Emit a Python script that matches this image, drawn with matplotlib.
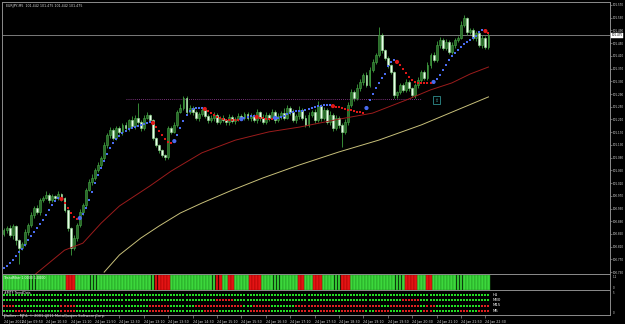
import numpy as np
import matplotlib.pyplot as plt
from matplotlib.transforms import blended_transform_factory

# --- 1. CHART DATA (EURJPY M5, 24 Jan 2012) ---
SYMBOL_TEXT = "EURJPY,M5  101.442 101.475 101.442 101.475"
FIRST_OPEN = 100.850

CLOSES = [
    100.862, 100.869, 100.847, 100.875, 100.831, 100.806, 100.818, 100.856, 100.878, 100.910,
    100.932, 100.919, 100.957, 100.963, 100.972, 100.957, 100.969, 100.963, 100.976, 100.963,
    100.925, 100.869, 100.806, 100.837, 100.878, 100.919, 100.941, 100.988, 101.013, 101.026,
    101.051, 101.067, 101.089, 101.130, 101.161, 101.177, 101.152, 101.183, 101.171, 101.193,
    101.183, 101.208, 101.189, 101.215, 101.202, 101.183, 101.215, 101.224, 101.208, 101.152,
    101.130, 101.114, 101.098, 101.092, 101.183, 101.171, 101.193, 101.233, 101.246, 101.277,
    101.233, 101.246, 101.233, 101.215, 101.227, 101.240, 101.221, 101.208, 101.215, 101.224,
    101.202, 101.215, 101.208, 101.202, 101.218, 101.205, 101.211, 101.221, 101.215, 101.227,
    101.215, 101.221, 101.208, 101.233, 101.215, 101.202, 101.224, 101.215, 101.233, 101.208,
    101.221, 101.230, 101.215, 101.246, 101.233, 101.208, 101.221, 101.240, 101.215, 101.193,
    101.224, 101.233, 101.208, 101.252, 101.215, 101.240, 101.202, 101.224, 101.183, 101.215,
    101.193, 101.171, 101.202, 101.256, 101.296, 101.277, 101.309, 101.328, 101.350, 101.318,
    101.366, 101.391, 101.413, 101.476, 101.428, 101.403, 101.381, 101.359, 101.287, 101.296,
    101.318, 101.303, 101.328, 101.309, 101.287, 101.318, 101.334, 101.359, 101.340, 101.381,
    101.413, 101.397, 101.444, 101.460, 101.435, 101.454, 101.422, 101.444, 101.460, 101.466,
    101.507, 101.529, 101.485, 101.491, 101.466, 101.482, 101.444, 101.466, 101.438, 101.476,
]

# wick lengths in thousandths of a yen
UPPER_WICK = [
    8, 5, 10, 6, 4, 3, 7, 9, 5, 8, 6, 10, 5, 7, 12, 6, 8, 5, 9, 4,
    3, 2, 4, 10, 6, 8, 5, 7, 9, 12, 6, 8, 5, 10, 6, 9, 5, 8, 7, 6,
    9, 5, 12, 8, 47, 6, 8, 10, 4, 3, 2, 4, 3, 5, 8, 6, 10, 7, 12, 8,
    6, 9, 5, 8, 7, 10, 6, 5, 8, 9, 7, 6, 8, 5, 10, 7, 6, 9, 5, 8,
    7, 10, 6, 9, 5, 12, 8, 6, 10, 7, 9, 6, 15, 8, 7, 10, 6, 12, 5, 8,
    9, 6, 10, 15, 7, 8, 5, 12, 6, 9, 7, 6, 8, 10, 9, 7, 12, 8, 6, 10,
    8, 9, 7, 25, 5, 4, 6, 3, 2, 5, 8, 6, 10, 5, 4, 7, 9, 6, 8, 10,
    7, 9, 12, 8, 6, 10, 5, 9, 7, 8, 12, 10, 4, 6, 8, 5, 7, 9, 6, 5,
]
LOWER_WICK = [
    6, 10, 8, 12, 15, 50, 8, 5, 10, 6, 9, 5, 8, 6, 4, 10, 5, 7, 6, 8,
    5, 10, 22, 6, 8, 5, 10, 6, 4, 8, 7, 5, 9, 6, 10, 8, 5, 7, 6, 9,
    6, 8, 5, 10, 7, 9, 6, 4, 5, 8, 6, 9, 7, 9, 6, 8, 5, 7, 4, 6,
    8, 5, 9, 6, 10, 7, 5, 8, 6, 9, 5, 7, 6, 10, 8, 6, 9, 5, 7, 8,
    6, 9, 5, 8, 10, 6, 7, 9, 5, 8, 6, 10, 7, 5, 9, 6, 8, 10, 6, 7,
    8, 6, 9, 5, 10, 7, 6, 8, 9, 5, 10, 48, 6, 8, 7, 9, 6, 8, 10, 5,
    7, 6, 8, 5, 9, 6, 8, 7, 10, 9, 6, 8, 7, 9, 6, 10, 8, 5, 7, 6,
    8, 5, 7, 9, 6, 8, 7, 5, 9, 6, 4, 6, 8, 5, 7, 9, 6, 8, 5, 7,
]

# fast signal line, drawn as dots (blue rising / red falling)
SIGNAL_MA = [
    100.743, 100.749, 100.759, 100.768, 100.781, 100.793, 100.803, 100.815, 100.831, 100.843,
    100.856, 100.869, 100.881, 100.894, 100.910, 100.925, 100.941, 100.954, 100.963, 100.960,
    100.947, 100.932, 100.916, 100.903, 100.897, 100.900, 100.913, 100.932, 100.957, 100.982,
    101.010, 101.035, 101.057, 101.079, 101.101, 101.120, 101.136, 101.148, 101.158, 101.167,
    101.174, 101.180, 101.183, 101.186, 101.189, 101.193, 101.196, 101.199, 101.202, 101.199,
    101.186, 101.174, 101.161, 101.148, 101.139, 101.136, 101.142, 101.161, 101.183, 101.205,
    101.224, 101.237, 101.243, 101.246, 101.246, 101.246, 101.243, 101.237, 101.230, 101.224,
    101.218, 101.215, 101.211, 101.208, 101.208, 101.208, 101.208, 101.208, 101.211, 101.215,
    101.218, 101.221, 101.221, 101.218, 101.215, 101.215, 101.211, 101.211, 101.211, 101.215,
    101.215, 101.218, 101.221, 101.227, 101.230, 101.233, 101.237, 101.237, 101.237, 101.240,
    101.243, 101.246, 101.249, 101.252, 101.252, 101.255, 101.255, 101.255, 101.252, 101.249,
    101.249, 101.246, 101.243, 101.240, 101.240, 101.237, 101.233, 101.233, 101.230, 101.246,
    101.271, 101.290, 101.309, 101.325, 101.340, 101.353, 101.378, 101.391, 101.397, 101.391,
    101.381, 101.369, 101.356, 101.343, 101.334, 101.328, 101.325, 101.325, 101.325, 101.325,
    101.325, 101.328, 101.337, 101.350, 101.365, 101.381, 101.397, 101.410, 101.419, 101.428,
    101.438, 101.447, 101.454, 101.460, 101.466, 101.472, 101.485, 101.491, 101.488, 101.482,
]

# slower moving averages, read at a few bars
SLOW_MA_BARS = [10, 20, 26, 32, 38, 48, 55, 65, 76, 87, 97, 110, 121, 132, 140, 147, 153, 159]
SLOW_MA = [100.720, 100.799, 100.821, 100.884, 100.938, 101.001, 101.048, 101.105, 101.145,
           101.171, 101.186, 101.211, 101.230, 101.271, 101.303, 101.325, 101.353, 101.375]
LONG_MA_BARS = [33, 38, 45, 51, 58, 65, 75, 85, 97, 110, 123, 137, 147, 159]
LONG_MA = [100.730, 100.784, 100.837, 100.875, 100.916, 100.947, 100.988, 101.026, 101.067,
           101.108, 101.145, 101.193, 101.233, 101.281]

LEVEL_PRICE = 101.274
LEVEL_BARS = (40, 137)
ARROW_BAR = 142
ARROW_PRICE = 101.271
CURRENT_PRICE = 101.475

PRICE_TICKS = [101.570, 101.530, 101.490, 101.450, 101.410, 101.370, 101.330, 101.290,
               101.250, 101.210, 101.170, 101.130, 101.090, 101.050, 101.010, 100.970,
               100.930, 100.890, 100.850, 100.810, 100.770, 100.730]

TIME_TICK_BARS = [0, 6, 14, 22, 30, 38, 46, 54, 62, 70, 78, 86, 94, 102, 110, 118, 126,
                  134, 142, 150, 158]
TIME_LABELS = ["24 Jan 2012", "24 Jan 09:50", "24 Jan 10:30", "24 Jan 11:10", "24 Jan 11:50",
               "24 Jan 12:30", "24 Jan 13:10", "24 Jan 13:50", "24 Jan 14:30", "24 Jan 15:10",
               "24 Jan 15:50", "24 Jan 16:30", "24 Jan 17:10", "24 Jan 17:50", "24 Jan 18:30",
               "24 Jan 19:10", "24 Jan 19:50", "24 Jan 20:30", "24 Jan 21:10", "24 Jan 21:50",
               "24 Jan 22:30"]

# trend filter histogram: red bar ranges (inclusive), everything else green
FILTER_RED = [(21, 23), (50, 54), (70, 71), (74, 75), (81, 84), (97, 98), (102, 104),
              (111, 113), (132, 135), (139, 140)]

# multi timeframe dots: red ranges per row
DOT_ROWS = ["H1", "M30", "M15", "M5"]
H1_RED = []
M30_RED = [(70, 75), (131, 136)]
M15_RED = [(0, 3), (19, 23), (48, 54), (63, 78), (82, 87), (96, 123), (127, 136), (139, 141),
           (157, 159)]
M5_RED = [(4, 7), (19, 23), (48, 54), (66, 70), (81, 87), (97, 101), (104, 108), (111, 118),
          (122, 126), (131, 135), (138, 140), (150, 152), (156, 159)]

# --- 2. STYLE ---
W, H = 625, 324
BG = "black"
GRID_GRAY = "#8c8c8c"
TEXT_COL = "#d8d8d8"
BAR_PX = 3.05
X0 = -0.5
X1 = X0 + 608 / BAR_PX
FS = 2.0


def fig_rect(left, top, right, bottom):
    return [left / W, 1 - bottom / H, (right - left) / W, (bottom - top) / H]


def style_axis(ax):
    ax.set_facecolor(BG)
    for sp in ax.spines.values():
        sp.set_color(GRID_GRAY)
        sp.set_linewidth(0.7)
    ax.set_xlim(X0, X1)
    ax.tick_params(axis="x", bottom=False, labelbottom=False)
    ax.yaxis.tick_right()
    ax.tick_params(axis="y", colors=GRID_GRAY, labelcolor=TEXT_COL, labelsize=FS,
                   length=1.5, width=0.5, pad=0.6)


def ranges_to_mask(ranges, n):
    mask = np.zeros(n, dtype=bool)
    for a, b in ranges:
        mask[a:b + 1] = True
    return mask


def main():
    n = len(CLOSES)
    x = np.arange(n)
    closes = np.array(CLOSES)
    opens = np.concatenate([[FIRST_OPEN], closes[:-1]])
    highs = np.maximum(opens, closes) + np.array(UPPER_WICK) / 1000
    lows = np.minimum(opens, closes) - np.array(LOWER_WICK) / 1000

    fig = plt.figure(figsize=(W / 100, H / 100), dpi=100, facecolor=BG)

    # --- main price panel ---
    ax = fig.add_axes(fig_rect(2, 2, 610, 274))
    style_axis(ax)
    ax.set_ylim(100.7241, 101.5794)
    ax.set_yticks(PRICE_TICKS)
    ax.set_yticklabels([f"{p:.3f}" for p in PRICE_TICKS])

    bull = closes >= opens
    ax.vlines(x, lows, highs, color="#3fa03f", lw=0.6, zorder=2)
    body_h = np.maximum(np.abs(closes - opens), 0.0015)
    ax.bar(x[bull], body_h[bull], bottom=np.minimum(opens, closes)[bull], width=0.62,
           color="#2a682a", edgecolor="#45a845", linewidth=0.4, zorder=3)
    ax.bar(x[~bull], body_h[~bull], bottom=np.minimum(opens, closes)[~bull], width=0.62,
           color="#e8ffe8", edgecolor="#9be09b", linewidth=0.4, zorder=3)

    ax.plot(SLOW_MA_BARS, SLOW_MA, color="#9b1c1c", lw=0.7, zorder=4)
    ax.plot(LONG_MA_BARS, LONG_MA, color="#c8c07a", lw=0.7, zorder=4)

    # signal line dots coloured by direction
    sig = np.array(SIGNAL_MA)
    rising = np.ones(n, dtype=bool)
    for i in range(1, n):
        if sig[i] > sig[i - 1]:
            rising[i] = True
        elif sig[i] < sig[i - 1]:
            rising[i] = False
        else:
            rising[i] = rising[i - 1]
    turn = np.zeros(n, dtype=bool)
    turn[1:] = rising[1:] != rising[:-1]
    ax.scatter(x[rising], sig[rising], s=1.6, color="#4a6cf0", marker="s", lw=0, zorder=5)
    ax.scatter(x[~rising], sig[~rising], s=1.6, color="#e01818", marker="s", lw=0, zorder=5)
    ax.scatter(x[turn], sig[turn], s=9, c=np.where(rising[turn], "#4a6cf0", "#e01818"),
               lw=0, zorder=6)

    ax.hlines(LEVEL_PRICE, LEVEL_BARS[0], LEVEL_BARS[1], colors="#a040a0",
              linestyles=(0, (1, 1.5)), lw=0.6, zorder=1)
    ax.text(ARROW_BAR, ARROW_PRICE, "\u21e7", color="#40b0b0", fontsize=3.5,
            ha="center", va="center",
            bbox=dict(boxstyle="square,pad=0.25", fc="none", ec="#2f8f8f", lw=0.6))

    ax.axhline(CURRENT_PRICE, color="#7a7a7a", lw=0.7, zorder=1)
    trans = blended_transform_factory(ax.transAxes, ax.transData)
    ax.text(1.003, CURRENT_PRICE, f"{CURRENT_PRICE:.3f}", transform=trans, fontsize=FS,
            color="black", ha="left", va="center", clip_on=False,
            bbox=dict(boxstyle="square,pad=0.12", fc="white", ec="white", lw=0.3))

    fig.text(6 / W, 1 - 6 / H, SYMBOL_TEXT, color=TEXT_COL, fontsize=2.3, va="center")

    # --- trend filter histogram ---
    axh = fig.add_axes(fig_rect(2, 274, 610, 290))
    style_axis(axh)
    axh.set_ylim(0, 1.1)
    axh.set_yticks([])
    red = ranges_to_mask(FILTER_RED, n)
    axh.bar(x[~red], np.ones((~red).sum()), width=0.95, color="#3cd83c",
            edgecolor="#1e8c1e", linewidth=0.35)
    axh.bar(x[red], np.ones(red.sum()), width=0.95, color="#e41414",
            edgecolor="#a00000", linewidth=0.35)
    axh.text(0.003, 0.72, "TrendFilter 1.0000 1.0000", transform=axh.transAxes,
             color="white", fontsize=2.3, va="center")
    axh.text(1.004, 0.82, "1.1", transform=axh.transAxes, color=TEXT_COL, fontsize=FS,
             va="center")
    axh.text(1.004, 0.15, "0", transform=axh.transAxes, color=TEXT_COL, fontsize=FS,
             va="center")

    # --- multi timeframe dots ---
    axd = fig.add_axes(fig_rect(2, 290, 610, 315))
    style_axis(axd)
    axd.set_ylim(0, 5)
    axd.set_yticks([])
    row_y = [4.1, 3.0, 1.9, 0.75]
    for label, ranges, yy in zip(DOT_ROWS, [H1_RED, M30_RED, M15_RED, M5_RED], row_y):
        m = ranges_to_mask(ranges, n)
        axd.scatter(x[~m], np.full((~m).sum(), yy), s=1.8, marker="s", color="#22dd22", lw=0)
        axd.scatter(x[m], np.full(m.sum(), yy), s=1.8, marker="s", color="#dd2020", lw=0)
        axd.text(x[-1] + 1.5, yy, label, color="white", fontsize=2.8, va="center")
    axd.text(0.003, 0.9, "#MTF TrendDots", transform=axd.transAxes, color="white",
             fontsize=2.3, va="center")
    axd.text(1.004, 0.9, "5", transform=axd.transAxes, color=TEXT_COL, fontsize=FS,
             va="center")
    axd.text(1.004, 0.08, "0", transform=axd.transAxes, color=TEXT_COL, fontsize=FS,
             va="center")

    # time axis under the last panel
    axd.set_xticks(TIME_TICK_BARS)
    axd.set_xticklabels(TIME_LABELS)
    axd.tick_params(axis="x", bottom=True, labelbottom=True, colors=GRID_GRAY,
                    labelcolor=TEXT_COL, labelsize=2.3, length=2, width=0.5, pad=1.8)
    for lbl in axd.get_xticklabels():
        lbl.set_ha("left")

    fig.text(4 / W, 1 - 315.5 / H, "Dailies - MT4, \u00a9 2001-2011 MetaQuotes Software Corp.",
             color=TEXT_COL, fontsize=2.6, va="center", zorder=10)

    fig.savefig("out.png", dpi=100, facecolor=BG)


if __name__ == "__main__":
    main()
